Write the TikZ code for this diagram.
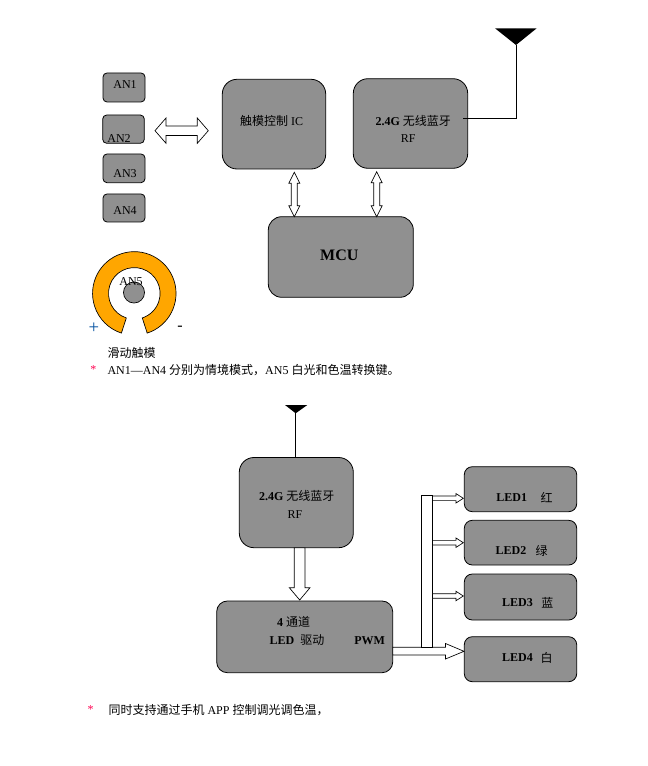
\documentclass[tikz,border=0pt]{standalone}
\usepackage{fontspec}
\setmainfont{Liberation Serif}
\newfontfamily\cjk{Noto Sans CJK SC}
\usetikzlibrary{fit,calc}
\definecolor{boxgray}{RGB}{144,144,144}
\definecolor{ringorange}{RGB}{255,166,0}
\definecolor{plusblue}{RGB}{0,80,160}
\definecolor{starred}{RGB}{255,0,80}
\begin{document}
\begin{tikzpicture}[x=0.75pt,y=-0.75pt,
  box/.style={draw=black, fill=boxgray, inner sep=0pt, line width=0.6pt},
  txt/.style={inner sep=0pt, font=\fontsize{9}{11}\selectfont},
  blockarrow/.style={draw=black, fill=white, line width=0.5pt, line join=miter}]
\fill[white] (0,0) rectangle (648,766);
\useasboundingbox (0,0) rectangle (648,766);

% ---------- top section: boxes ----------
\node[box, rounded corners=3pt, fit={(103,73) (145,102)}] (an1) {};
\node[box, rounded corners=3pt, fit={(102.7,115) (144.3,143.3)}] (an2) {};
\node[box, rounded corners=3pt, fit={(103,154) (145,182.7)}] (an3) {};
\node[box, rounded corners=3pt, fit={(103,194) (145,222)}] (an4) {};
\node[box, rounded corners=11pt, fit={(222.3,79.3) (325.7,169)}] (ic) {};
\node[box, rounded corners=11pt, fit={(353.3,78.7) (467.7,168.3)}] (rf) {};
\node[box, rounded corners=10pt, fit={(268.3,216.7) (413.3,297.3)}] (mcu) {};

\node[txt] (an1t) at (125,85) {AN1};
\node[txt] (an2t) at (119,138.5) {AN2};
\node[txt] (an3t) at (125,173.5) {AN3};
\node[txt] (an4t) at (125,210.5) {AN4};
\node[txt] (ict) at (271.7,120.5) {{\cjk 触模控制} IC};
\node[txt] (rft1) at (413.3,120.5) {\textbf{2.4G} {\cjk 无线蓝牙}};
\node[txt] (rft2) at (408.3,138.5) {RF};
\node[inner sep=0pt, font=\fontsize{12}{14}\selectfont\bfseries] (mcut) at (339.3,255.5) {MCU};

% block arrows (top)
\draw[blockarrow] (155,130.7) -- (166,118) -- (166,126) -- (197.3,126) -- (197.3,118)
  -- (208.3,130.7) -- (197.3,143.3) -- (197.3,135.5) -- (166,135.5) -- (166,143.3) -- cycle;
\draw[blockarrow] (294.3,172.3) -- (299.8,183.3) -- (297.3,183.3) -- (297.3,205.7) -- (299.8,205.7)
  -- (294.3,216.7) -- (288.8,205.7) -- (291.3,205.7) -- (291.3,183.3) -- (288.8,183.3) -- cycle;
\draw[blockarrow] (376.7,171.7) -- (382.2,182.7) -- (379.7,182.7) -- (379.7,205.7) -- (382.2,205.7)
  -- (376.7,216.7) -- (371.2,205.7) -- (373.7,205.7) -- (373.7,182.7) -- (371.2,182.7) -- cycle;

% antenna (top)
\coordinate (rfout) at (463.3,118.3);
\coordinate (antA) at (516,45);
\fill[black] (495,28.3) -- (536.7,28.3) -- (antA) -- cycle;
\draw[line width=0.7pt] (rfout) -| (antA);

% slider ring
\coordinate (ringc) at (134.3,293.4);
\filldraw[fill=ringorange, draw=black, line width=0.5pt]
  ($(ringc)+(-72:31.3pt)$) arc[start angle=-72, end angle=252, radius=31.3pt]
  -- ($(ringc)+(252:19.35pt)$) arc[start angle=252, end angle=-72, radius=19.35pt] -- cycle;
\node[circle, draw=black, fill=boxgray, minimum size=15.8pt, inner sep=0pt, line width=0.5pt] (an5) at (134,292.5) {};
\node[txt] (an5t) at (131,282) {AN5};
\node[txt, text=plusblue, font=\fontsize{14}{14}\selectfont] (plus) at (94,328.3) {+};
\node[txt, font=\fontsize{12}{12}\selectfont] (minus) at (180,328) {-};
\node[txt, anchor=west] (slide) at (107.3,352.7) {\cjk 滑动触模};
\node[txt, text=starred] (star1) at (93.3,370) {*};
\node[txt, anchor=west] (note1) at (107.3,370) {AN1—AN4 {\cjk 分别为情境模式，}AN5 {\cjk 白光和色温转换键。}};

% ---------- bottom section ----------
\node[box, rounded corners=11pt, fit={(239.3,457.5) (353.3,547.7)}] (rf2) {};
\node[box, rounded corners=8pt, fit={(216.7,601) (392.7,672.7)}] (drv) {};
\node[box, rounded corners=6pt, fit={(464.3,466.7) (576.7,511.7)}] (led1) {};
\node[box, rounded corners=6pt, fit={(464.3,520.3) (576.7,565)}] (led2) {};
\node[box, rounded corners=6pt, fit={(464.3,574) (576.7,620)}] (led3) {};
\node[box, rounded corners=6pt, fit={(464.3,636.7) (576.7,681.7)}] (led4) {};

% antenna (bottom)
\coordinate (antB) at (295.7,413.3);
\fill[black] (285,405) -- (307.3,405) -- (antB) -- cycle;
\draw[line width=0.7pt] (antB) -- (antB |- rf2.north);

\node[txt] (rf2t1) at (296.7,495.5) {\textbf{2.4G} {\cjk 无线蓝牙}};
\node[txt] (rf2t2) at (295,514.5) {RF};
\node[txt] (drvt1) at (293.7,622) {\textbf{4} {\cjk 通道}};
\node[txt] (drvt2) at (297,640.5) {\textbf{LED}\ \ {\cjk 驱动}};
\node[txt] (drvt3) at (369.7,640.5) {\textbf{PWM}};

% down arrow
\draw[blockarrow] (294.3,547.7) -- (305,547.7) -- (305,587.7) -- (310,587.7) -- (299.7,600)
  -- (289.3,587.7) -- (294.3,587.7) -- cycle;

% big arrow to LED4 and bus bar
\draw[blockarrow] (392.7,647.3) -- (445.5,647.3) -- (445.5,643.5) -- (464,651.3) -- (445.5,659)
  -- (445.5,655) -- (392.7,655) -- cycle;
\node[draw=black, fill=white, inner sep=0pt, line width=0.6pt, fit={(421.7,495) (432.5,647.5)}] (bus) {};
\foreach \c in {498.3,542.7,596}{
  \draw[blockarrow] (432.5,\c-2.3) -- (456,\c-2.3) -- (456,\c-4.7) -- (463.3,\c)
    -- (456,\c+4.7) -- (456,\c+2.3) -- (432.5,\c+2.3) -- cycle;
}

\node[txt] (l1a) at (511.7,497.5) {\textbf{LED1}};
\node[txt] (l1b) at (546.7,497.5) {\cjk 红};
\node[txt] (l2a) at (511,550.5) {\textbf{LED2}};
\node[txt] (l2b) at (541.7,550.5) {\cjk 绿};
\node[txt] (l3a) at (517.5,602.5) {\textbf{LED3}};
\node[txt] (l3b) at (547.3,602.5) {\cjk 蓝};
\node[txt] (l4a) at (517.5,658) {\textbf{LED4}};
\node[txt] (l4b) at (546.7,658) {\cjk 白};

\node[txt, text=starred] (star2) at (90.7,710) {*};
\node[txt, anchor=west] (note2) at (108.3,710) {{\cjk 同时支持通过手机} APP {\cjk 控制调光调色温，}};
\end{tikzpicture}
\end{document}
